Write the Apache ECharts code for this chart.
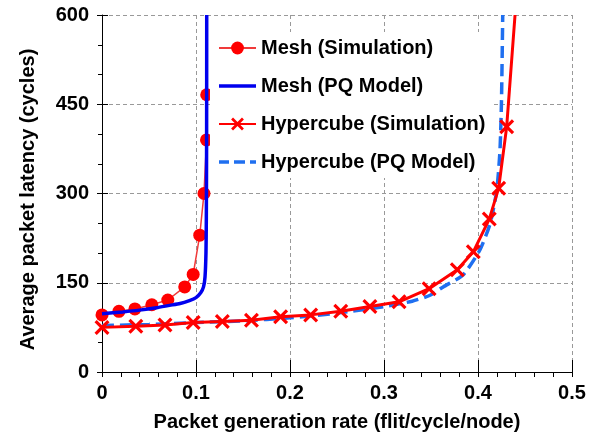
<!DOCTYPE html>
<html>
<head>
<meta charset="utf-8">
<script src="https://cdn.jsdelivr.net/npm/echarts@6/dist/echarts.min.js"></script>
<style>
	html, body { margin: 0; padding: 0; background: #fff; }
	#chart { width: 595px; height: 438px; }
</style>
</head>
<body>
<div id="chart"></div>
<script>
// values
const meshSimRate = [0, 0.018, 0.035, 0.053, 0.07, 0.088, 0.097, 0.104, 0.1085, 0.1112, 0.1114]
const meshSimLat = [96, 102, 106, 113, 121, 143, 164, 230, 300, 390, 466]

const meshModelRate = [0, 0.022, 0.04, 0.058, 0.072, 0.083, 0.093, 0.1, 0.105, 0.108, 0.1096, 0.1106, 0.111, 0.1113, 0.1114]
const meshModelLat = [98, 101, 104, 108, 112, 115, 120, 125, 133, 143, 160, 200, 260, 400, 600]

const hcSimRate = [0, 0.036, 0.067, 0.097, 0.128, 0.159, 0.19, 0.222, 0.254, 0.285, 0.316, 0.348, 0.378, 0.395, 0.412, 0.422, 0.4305, 0.4394]
const hcSimLat = [75, 77, 79, 83, 85, 87, 93, 96, 102, 110, 118, 140, 172, 202, 257, 309, 412, 600]

const hcModelRate = [0, 0.05, 0.1, 0.15, 0.2, 0.25, 0.3, 0.33, 0.349, 0.363, 0.384, 0.402, 0.413, 0.42, 0.4234, 0.425, 0.4263]
const hcModelLat = [78, 80, 83, 86, 91, 99, 110, 119, 129, 143, 163, 205, 250, 306, 373, 457, 600]

const xTicks = [0, 0.1, 0.2, 0.3, 0.4, 0.5]
const yTicks = [0, 150, 300, 450, 600]

const font = "'Liberation Sans', Arial, sans-serif"
const crossPath = 'path://M0,3 L3,0 L10,7 L17,0 L20,3 L13,10 L20,17 L17,20 L10,13 L3,20 L0,17 L7,10 Z'
// legend icons for the model curves (plain line, dashed line)
const solidIcon = 'path://M0,0 H37 V3.5 H0 Z'
const dashIcon = 'path://M0,0 H10 V3.5 H0 Z M15,0 H26 V3.5 H15 Z M31,0 H37 V3.5 H31 Z'

const zip = (xs, ys) => xs.map((x, i) => [x, ys[i]])

const hcSimData = zip(hcSimRate, hcSimLat).map((p, i) =>
	i === hcSimRate.length - 1 ? { value: p, symbol: 'none' } : p
)

const gridLine = {
	show: true,
	lineStyle: { color: '#999', type: [4, 3], width: 1 },
}
const labelText = { fontSize: 20, fontWeight: 'bold', color: '#000', fontFamily: font }

const myChart = echarts.init(document.getElementById('chart'))
const options = {
	animation: false,
	textStyle: { fontFamily: font },
	grid: { left: 102, right: 23, top: 15, bottom: 66 },
	legend: {
		orient: 'vertical',
		left: 210,
		top: 32,
		padding: [6, 8],
		backgroundColor: '#fff',
		itemWidth: 37,
		itemHeight: 16,
		itemGap: 18,
		textStyle: { fontFamily: font, fontSize: 20, fontWeight: 'bold', color: '#000' },
		data: [
			'Mesh (Simulation)',
			{ name: 'Mesh (PQ Model)', icon: solidIcon },
			'Hypercube (Simulation)',
			{ name: 'Hypercube (PQ Model)', icon: dashIcon },
		],
	},
	xAxis: [
		{
			type: 'value',
			min: 0,
			max: 0.5,
			interval: 0.1,
			name: 'Packet generation rate (flit/cycle/node)',
			nameLocation: 'middle',
			nameGap: 40,
			nameTextStyle: labelText,
			axisLine: { lineStyle: { color: '#000', width: 1 } },
			axisTick: { inside: false, length: 5, lineStyle: { color: '#000' } },
			minorTick: { show: true, splitNumber: 5, length: 5, lineStyle: { color: '#000' } },
			axisLabel: { margin: 11, customValues: xTicks, ...labelText },
			splitLine: gridLine,
		},
		{
			type: 'value',
			position: 'bottom',
			min: 0,
			max: 0.5,
			interval: 0.1,
			axisLine: { show: false },
			axisTick: { inside: true, length: 12, lineStyle: { color: '#000' } },
			axisLabel: { show: false },
			splitLine: { show: false },
		},
	],
	yAxis: [
		{
			type: 'value',
			min: 0,
			max: 600,
			interval: 150,
			name: 'Average packet latency (cycles)',
			nameLocation: 'middle',
			nameGap: 64,
			nameTextStyle: { ...labelText, padding: [0, 12, 0, 0] },
			axisLine: { show: true, lineStyle: { color: '#000', width: 1 } },
			axisTick: { show: true, inside: false, length: 5, lineStyle: { color: '#000' } },
			minorTick: { show: true, splitNumber: 3, length: 4, lineStyle: { color: '#000' } },
			axisLabel: { margin: 13, customValues: yTicks, ...labelText },
			splitLine: gridLine,
		},
		{
			type: 'value',
			position: 'left',
			min: 0,
			max: 600,
			interval: 150,
			axisLine: { show: false },
			axisTick: { show: true, inside: true, length: 6, lineStyle: { color: '#000' } },
			axisLabel: { show: false },
			splitLine: { show: false },
		},
	],
	series: [
		{
			name: 'Mesh (Simulation)',
			type: 'line',
			data: zip(meshSimRate, meshSimLat),
			symbol: 'circle',
			symbolSize: 13,
			itemStyle: { color: '#ff0000' },
			lineStyle: { color: '#f03a3a', width: 1.5 },
			z: 3,
		},
		{
			name: 'Mesh (PQ Model)',
			type: 'line',
			data: zip(meshModelRate, meshModelLat),
			symbol: 'none',
			smooth: 0.2,
			itemStyle: { color: '#0000ee' },
			lineStyle: { color: '#0000ee', width: 3.5 },
			z: 4,
		},
		{
			name: 'Hypercube (Simulation)',
			type: 'line',
			data: hcSimData,
			symbol: crossPath,
			symbolSize: 15,
			itemStyle: { color: '#ff0000' },
			lineStyle: { color: '#ff0000', width: 3 },
			z: 6,
		},
		{
			name: 'Hypercube (PQ Model)',
			type: 'line',
			data: zip(hcModelRate, hcModelLat),
			symbol: 'none',
			smooth: 0.2,
			itemStyle: { color: '#1f6ff0' },
			lineStyle: { color: '#1f6ff0', width: 3.5, type: [12, 6] },
			z: 5,
		},
	],
}
myChart.setOption(options)
</script>
</body>
</html>
